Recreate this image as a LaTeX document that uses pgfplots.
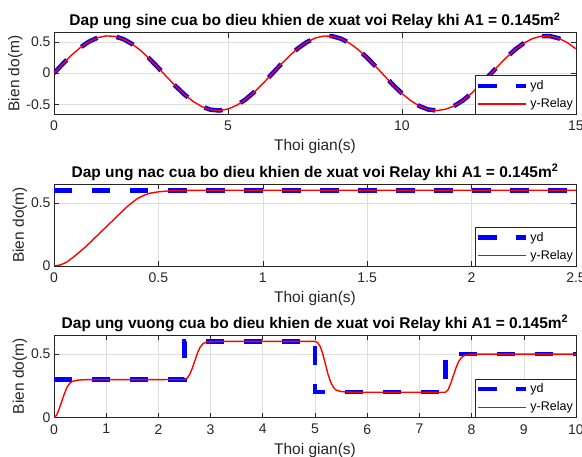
\documentclass[border=0pt]{standalone}
\usepackage{fontspec}
\setmainfont{Liberation Sans}
\usepackage{pgfplots}
\usepackage{pgfplotstable}
\pgfplotsset{compat=1.18}
\definecolor{axgray}{rgb}{0.15,0.15,0.15}
\definecolor{gridgray}{rgb}{0.87,0.87,0.87}

\pgfplotstableread{
t y
0 0
0.25 0.1484
0.5 0.2877
0.75 0.4090
1.0 0.5049
1.25 0.5694
1.5 0.5985
1.75 0.5904
2.0 0.5456
2.25 0.4669
2.5 0.3591
2.75 0.2290
3.0 0.0847
3.25 -0.0649
3.5 -0.2105
3.75 -0.3430
4.0 -0.4541
4.25 -0.5370
4.5 -0.5865
4.75 -0.5996
5.0 -0.5754
5.25 -0.5153
5.5 -0.4233
5.75 -0.3050
6.0 -0.1677
6.25 -0.0199
6.5 0.1291
6.75 0.2700
7.0 0.3942
7.25 0.4939
7.5 0.5628
7.75 0.5968
8.0 0.5936
8.25 0.5535
8.5 0.4791
8.75 0.3748
9.0 0.2473
9.25 0.1046
9.5 -0.0451
9.75 -0.1919
10.0 -0.3264
10.25 -0.4408
10.5 -0.5278
10.75 -0.5827
11.0 -0.6000
11.25 -0.5794
11.5 -0.5253
11.75 -0.4383
12.0 -0.3220
12.25 -0.1837
12.5 -0.0398
12.75 0.1096
13.0 0.2521
13.25 0.3790
13.5 0.4822
13.75 0.5556
14.0 0.5944
14.25 0.5962
14.5 0.5609
14.75 0.4909
15.0 0.3902
}\sinetab

\pgfplotstableread{
t y
0 0.6
2.5 0.6
}\stepref

\pgfplotstableread{
t y
0 0
0.03 0.008
0.06 0.03
0.1 0.08
0.15 0.15
0.2 0.23
0.25 0.31
0.3 0.39
0.35 0.47
0.38 0.51
0.4 0.535
0.43 0.56
0.46 0.577
0.5 0.588
0.55 0.595
0.6 0.598
0.7 0.6
2.5 0.6
}\steprelay

\pgfplotstableread{
t y
0 0.3
2.5 0.3
2.5 0.6
5 0.6
5 0.2
7.5 0.2
7.5 0.5
10 0.5
}\sqref

\pgfplotstableread{
t y
0 0
0.05 0.02
0.1 0.07
0.15 0.13
0.2 0.19
0.25 0.24
0.3 0.27
0.35 0.285
0.45 0.295
0.6 0.299
2.5 0.3
2.55 0.31
2.6 0.34
2.65 0.39
2.7 0.45
2.75 0.51
2.8 0.555
2.85 0.58
2.9 0.592
3.0 0.598
3.2 0.6
5.0 0.6
5.05 0.59
5.1 0.56
5.15 0.5
5.2 0.42
5.25 0.34
5.3 0.28
5.35 0.24
5.4 0.218
5.5 0.205
5.7 0.2
7.5 0.2
7.55 0.22
7.6 0.27
7.65 0.33
7.7 0.39
7.75 0.44
7.8 0.47
7.85 0.487
7.95 0.497
8.1 0.5
10 0.5
}\sqrelay

\pgfplotsset{
  legend image code/.code={\draw[#1] (0pt,0pt) -- (48pt,0pt);},
  mstyle/.style={
    scale only axis, width=522pt,
    axis line style={axgray, line width=0.6pt},
    tick style={axgray, line width=0.6pt},
    major tick length=5pt,
    tick align=inside,
    xtick pos=both, ytick pos=both,
    grid=major,
    major grid style={gridgray, line width=0.6pt},
    ticklabel style={font=\fontsize{14}{16}\selectfont, text=axgray},
    xticklabel style={yshift=-3pt},
    /pgf/number format/assume math mode=true,
    xlabel style={font=\fontsize{15.5}{18}\selectfont, text=axgray, yshift=-2pt},
    ylabel style={font=\fontsize{15.5}{18}\selectfont, text=axgray},
    ylabel shift=-3pt,
    title style={font=\fontsize{15.5}{18}\selectfont\bfseries, yshift=-6pt},
    xlabel={Thoi gian(s)}, ylabel={Bien do(m)},
    legend style={at={(1,0)}, anchor=south east,
      font=\fontsize{12.5}{14}\selectfont, draw=axgray, fill=white,
      inner xsep=1pt, inner ysep=3.5pt, row sep=4.5pt,
      nodes={inner xsep=2pt, inner ysep=1.5pt}},
    legend cell align=left,
  },
  yd/.style={blue, line width=4.5pt, dash pattern=on 18.5pt off 19.5pt},
  yr/.style={red, line width=1.4pt},
}

\begin{document}
\begin{tikzpicture}
\useasboundingbox (0pt,0pt) rectangle (582pt,457pt);

\begin{axis}[mstyle, at={(54pt,342.7pt)}, anchor=south west, height=81.6pt,
  xmin=0, xmax=15, ymin=-0.66, ymax=0.65,
  xtick={0,5,10,15}, ytick={-0.5,0,0.5},
  title={Dap ung sine cua bo dieu khien de xuat voi Relay khi A1 = 0.145m\textsuperscript{2}}]
\addplot[yd] table[x=t,y=y] {\sinetab};
\addlegendentry{yd}
\addplot[yr] table[x=t,y=y] {\sinetab};
\addlegendentry{y-Relay}
\end{axis}

\begin{axis}[mstyle, at={(54pt,191pt)}, anchor=south west, height=82pt,
  xmin=0, xmax=2.5, ymin=0, ymax=0.65,
  xtick={0,0.5,1,1.5,2,2.5}, ytick={0,0.5},
  title={Dap ung nac cua bo dieu khien de xuat voi Relay khi A1 = 0.145m\textsuperscript{2}}]
\addplot[yd] table[x=t,y=y] {\stepref};
\addlegendentry{yd}
\addplot[yr] table[x=t,y=y] {\steprelay};
\addlegendentry{y-Relay}
\end{axis}

\begin{axis}[mstyle, at={(54pt,39.3pt)}, anchor=south west, height=82.7pt,
  xmin=0, xmax=10, ymin=0, ymax=0.65,
  xtick={0,1,2,3,4,5,6,7,8,9,10}, ytick={0,0.5},
  title={Dap ung vuong cua bo dieu khien de xuat voi Relay khi A1 = 0.145m\textsuperscript{2}}]
\addplot[yd] table[x=t,y=y] {\sqref};
\addlegendentry{yd}
\addplot[yr] table[x=t,y=y] {\sqrelay};
\addlegendentry{y-Relay}
\end{axis}
\end{tikzpicture}
\end{document}
